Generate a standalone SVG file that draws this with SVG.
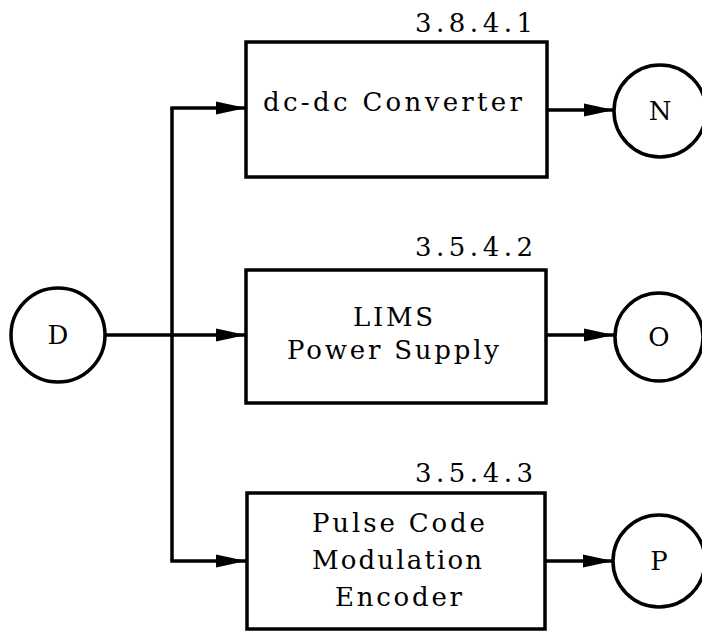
<svg xmlns="http://www.w3.org/2000/svg" width="702" height="631" viewBox="0 0 702 631">
<style>
.box{fill:#fff;stroke:#000;stroke-width:3.5}
.cir{fill:#fff;stroke:#000;stroke-width:3.5}
.ln{fill:none;stroke:#000;stroke-width:3.5}
text{font-family:"DejaVu Serif","Liberation Serif",serif;font-size:26px;fill:#000}
</style>
<defs>
<marker id="ah" markerUnits="userSpaceOnUse" markerWidth="32" markerHeight="16" refX="30" refY="8" orient="auto">
<path d="M0,1.5 L30,8 L0,14.5 z" fill="#000"/>
</marker>
</defs>
<g id="connectors">
<path class="ln" d="M105,335 H246" marker-end="url(#ah)"/>
<path class="ln" d="M172,335 V108"/>
<path class="ln" d="M172,335 V561"/>
<path class="ln" d="M170.3,108 H246" marker-end="url(#ah)"/>
<path class="ln" d="M170.3,561 H246" marker-end="url(#ah)"/>
<path class="ln" d="M547,110 H614" marker-end="url(#ah)"/>
<path class="ln" d="M546,335 H614" marker-end="url(#ah)"/>
<path class="ln" d="M545,561 H613" marker-end="url(#ah)"/>
</g>
<g id="nodeD">
<circle class="cir" cx="58" cy="335" r="47"/>
<text x="58" y="344" text-anchor="middle">D</text>
</g>
<g id="box1">
<rect class="box" x="246" y="42" width="301" height="135"/>
<text x="415" y="32" textLength="118" lengthAdjust="spacing">3.8.4.1</text>
<text x="263" y="111" textLength="259" lengthAdjust="spacing">dc-dc Converter</text>
</g>
<g id="box2">
<rect class="box" x="246" y="270" width="300" height="133"/>
<text x="415" y="256" textLength="118" lengthAdjust="spacing">3.5.4.2</text>
<text x="353" y="326" textLength="80" lengthAdjust="spacing">LIMS</text>
<text x="287" y="359" textLength="212" lengthAdjust="spacing">Power Supply</text>
</g>
<g id="box3">
<rect class="box" x="247" y="493" width="298" height="136"/>
<text x="415" y="482" textLength="118" lengthAdjust="spacing">3.5.4.3</text>
<text x="312" y="532" textLength="173" lengthAdjust="spacing">Pulse Code</text>
<text x="312" y="569" textLength="170" lengthAdjust="spacing">Modulation</text>
<text x="335" y="606" textLength="127" lengthAdjust="spacing">Encoder</text>
</g>
<g id="nodeN">
<circle class="cir" cx="660" cy="111" r="46"/>
<text x="660" y="120" text-anchor="middle">N</text>
</g>
<g id="nodeO">
<circle class="cir" cx="659" cy="337" r="44"/>
<text x="659" y="346" text-anchor="middle">O</text>
</g>
<g id="nodeP">
<circle class="cir" cx="659" cy="561" r="46"/>
<text x="659" y="570" text-anchor="middle">P</text>
</g>
</svg>
